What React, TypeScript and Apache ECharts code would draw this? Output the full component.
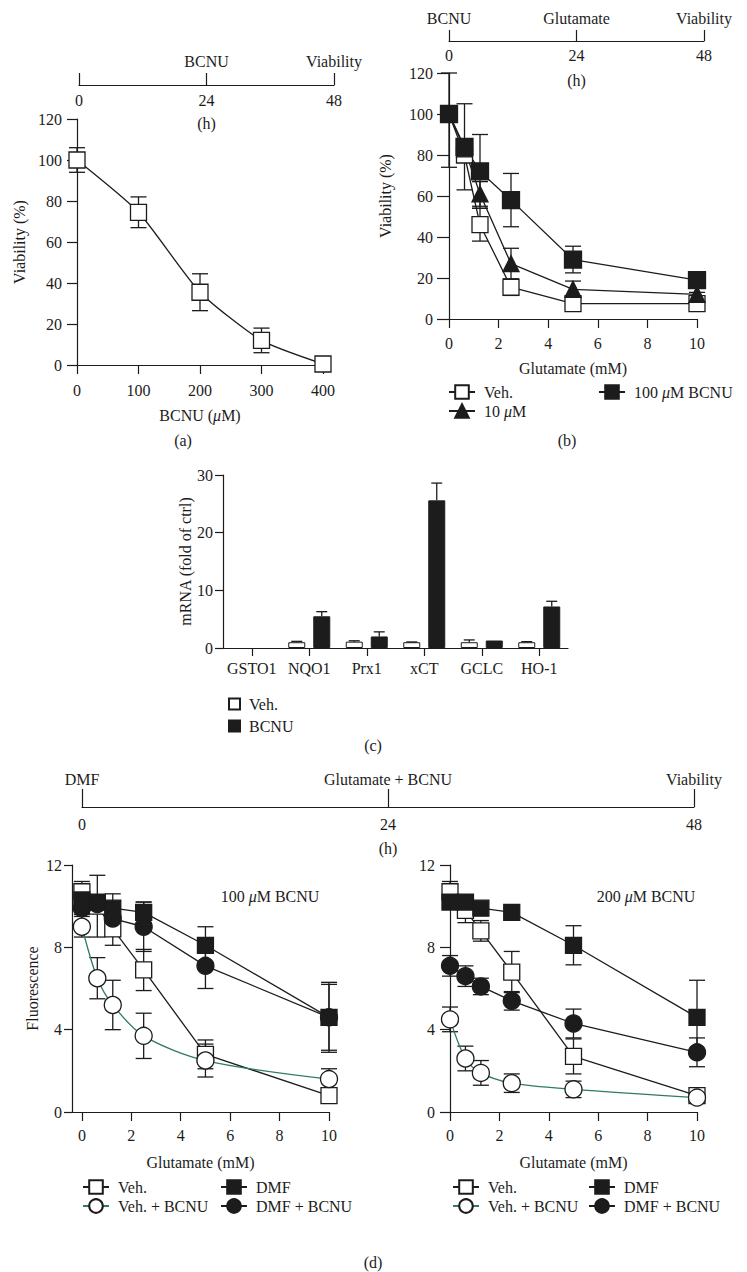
import React, { useEffect, useRef } from 'react';
import * as echarts from 'echarts';

const FONT = '"Liberation Serif", "Times New Roman", serif';
const INK = '#1c1c1c';
const GREEN = '#2f7c5e';

// ---------- timelines ----------
const tlHours = [0, 24, 48];
const tlEventsA = ['', 'BCNU', 'Viability'];
const tlEventsB = ['BCNU', 'Glutamate', 'Viability'];
const tlEventsD = ['DMF', 'Glutamate + BCNU', 'Viability'];

// ---------- (a) ----------
const doseA = [0, 100, 200, 300, 400];
const viabA = [100, 74.5, 35.5, 12, 0.5];
const viabAErr = [6, 7.5, 9, 6, 0];

// ---------- (b) ----------
const glut = [0, 0.625, 1.25, 2.5, 5, 10];
const bVeh = [100, 80, 46, 15.5, 7.5, 7.5];
const bVehErr = [0, 3, 8, 4, 1, 1];
const b10 = [100, 83, 61, 27, 14.5, 12];
const b10Err = [0, 3, 6, 7.5, 4, 1];
const b100 = [100, 84, 72, 58, 29, 19];
const b100Err = [26, 21, 18, 13, 6.5, 1];

// ---------- (c) ----------
const genes = ['GSTO1', 'NQO1', 'Prx1', 'xCT', 'GCLC', 'HO-1'];
const cVeh = [null, 1, 1.1, 1, 1, 1];
const cVehErr = [0, 0.15, 0.15, 0.05, 0.4, 0.1];
const cBcnu = [null, 5.5, 2, 25.6, 1.3, 7.2];
const cBcnuErr = [0, 0.8, 0.8, 3, 0, 0.9];

// ---------- (d) left: 100 uM BCNU ----------
const dLVeh = [10.7, 10.0, 8.9, 6.9, 2.8, 0.8];
const dLVehErr = [0.5, 1.5, 0.8, 1.0, 0.7, 0.2];
const dLVehB = [9.0, 6.5, 5.2, 3.7, 2.5, 1.6];
const dLVehBErr = [0.5, 1.0, 1.2, 1.1, 0.8, 0.5];
const dLDmf = [10.3, 10.2, 9.9, 9.7, 8.1, 4.6];
const dLDmfErr = [0.3, 0.3, 0.7, 0.5, 0.9, 1.7];
const dLDmfB = [9.9, 10.1, 9.4, 9.0, 7.1, 4.6];
const dLDmfBErr = [0.3, 0.4, 0.8, 1.2, 1.1, 1.6];

// ---------- (d) right: 200 uM BCNU ----------
const dRVeh = [10.7, 9.8, 8.8, 6.8, 2.7, 0.8];
const dRVehErr = [0.5, 0.6, 0.5, 1.0, 0.85, 0.2];
const dRVehB = [4.5, 2.6, 1.9, 1.4, 1.1, 0.7];
const dRVehBErr = [0.6, 0.6, 0.6, 0.45, 0.4, 0.1];
const dRDmf = [10.2, 10.2, 9.9, 9.7, 8.1, 4.6];
const dRDmfErr = [0.2, 0.2, 0.3, 0.2, 0.95, 1.8];
const dRDmfB = [7.1, 6.6, 6.1, 5.4, 4.3, 2.9];
const dRDmfBErr = [0.5, 0.5, 0.4, 0.45, 0.7, 0.7];

const glutTicks = [0, 2, 4, 6, 8, 10];

const txt = { fontFamily: FONT, fontSize: 16, color: INK };
const rich = { i: { fontFamily: FONT, fontSize: 16, color: INK, fontStyle: 'italic' } };

function timelineAxes(gridIndex: number, events: string[], tickLen: number, topMargin: number, numMargin: number, nameGap: number) {
  return [
    {
      type: 'value', gridIndex, min: 0, max: 48, interval: 24, position: 'bottom',
      axisLine: { show: true, lineStyle: { color: INK, width: 1.2 } },
      axisTick: { show: true, inside: true, length: tickLen, lineStyle: { color: INK, width: 1.2 } },
      axisLabel: { ...txt, margin: numMargin },
      splitLine: { show: false },
      name: '(h)', nameLocation: 'middle', nameGap, nameTextStyle: txt,
    },
    {
      type: 'value', gridIndex, min: 0, max: 48, interval: 24, position: 'top',
      axisLine: { show: false }, axisTick: { show: false }, splitLine: { show: false },
      axisLabel: { ...txt, margin: topMargin, formatter: (v: number) => events[tlHours.indexOf(v)] || '' },
    },
  ];
}

function plotX(gridIndex: number, min: number, max: number, interval: number, name: string, margin: number, nameGap: number, extra: any = {}) {
  return {
    type: 'value', gridIndex, min, max, interval,
    axisLine: { show: true, onZero: false, lineStyle: { color: INK, width: 1.2 } },
    axisTick: { show: true, length: 9, lineStyle: { color: INK, width: 1.2 } },
    axisLabel: { ...txt, margin },
    splitLine: { show: false },
    name, nameLocation: 'middle', nameGap, nameTextStyle: { ...txt, rich },
    ...extra,
  };
}

function plotY(gridIndex: number, min: number, max: number, interval: number, name: string, nameGap: number, tickLen: number, margin: number) {
  return {
    type: 'value', gridIndex, min, max, interval,
    axisLine: { show: true, onZero: false, lineStyle: { color: INK, width: 1.2 } },
    axisTick: { show: true, length: tickLen, lineStyle: { color: INK, width: 1.2 } },
    axisLabel: { ...txt, margin },
    splitLine: { show: false },
    name, nameLocation: 'middle', nameGap, nameRotate: 90, nameTextStyle: txt,
  };
}

function lineS(name: string, xs: number[], ys: number[], xi: number, yi: number, symbol: string, filled: boolean, extra: any = {}) {
  return {
    type: 'line', name, xAxisIndex: xi, yAxisIndex: yi,
    data: xs.map((x, i) => [x, ys[i]]),
    symbol, symbolSize: 16, showAllSymbol: true, clip: false, z: 3,
    lineStyle: { color: INK, width: 1.3 },
    itemStyle: { color: filled ? INK : '#ffffff', borderColor: INK, borderWidth: 1.3 },
    emphasis: { disabled: true },
    ...extra,
  };
}

function errS(xs: number[], ys: number[], es: number[], xi: number, yi: number, yMin: number, yMax: number, cap: number) {
  const data: number[][] = [];
  xs.forEach((x, i) => {
    if (es[i] > 0) data.push([x, Math.max(yMin, ys[i] - es[i]), Math.min(yMax, ys[i] + es[i])]);
  });
  return {
    type: 'custom', xAxisIndex: xi, yAxisIndex: yi, z: 1, silent: true,
    data,
    renderItem: (_p: any, api: any) => {
      const x = api.value(0), lo = api.value(1), hi = api.value(2);
      const a = api.coord([x, lo]);
      const b = api.coord([x, hi]);
      const st = { stroke: INK, lineWidth: 1.3 };
      return {
        type: 'group',
        children: [
          { type: 'line', shape: { x1: a[0], y1: a[1], x2: b[0], y2: b[1] }, style: st },
          { type: 'line', shape: { x1: a[0] - cap / 2, y1: a[1], x2: a[0] + cap / 2, y2: a[1] }, style: st },
          { type: 'line', shape: { x1: b[0] - cap / 2, y1: b[1], x2: b[0] + cap / 2, y2: b[1] }, style: st },
        ],
      };
    },
  };
}

const BAR_W = 17;
const BAR_GAP = 8;

function barErrS(vals: (number | null)[], errs: number[], side: number) {
  const data: number[][] = [];
  vals.forEach((v, i) => {
    if (v != null && errs[i] > 0) data.push([i, v, v + errs[i]]);
  });
  return {
    type: 'custom', xAxisIndex: 8, yAxisIndex: 5, z: 3, silent: true,
    data,
    renderItem: (_p: any, api: any) => {
      const a = api.coord([api.value(0), api.value(1)]);
      const b = api.coord([api.value(0), api.value(2)]);
      const x = a[0] + side * (BAR_W + BAR_GAP) / 2;
      const st = { stroke: INK, lineWidth: 1.3 };
      return {
        type: 'group',
        children: [
          { type: 'line', shape: { x1: x, y1: a[1], x2: x, y2: b[1] }, style: st },
          { type: 'line', shape: { x1: x - 5.5, y1: b[1], x2: x + 5.5, y2: b[1] }, style: st },
        ],
      };
    },
  };
}

const legendFmt = (name: string) => name.slice(name.indexOf(':') + 1).replace('μ', '{i|μ}');

function legend(data: string[], left: number, top: number, extra: any = {}) {
  return {
    data, left, top, orient: 'vertical', padding: 0,
    itemWidth: 26, itemHeight: 17, itemGap: 3,
    selectedMode: false, formatter: legendFmt,
    textStyle: { ...txt, rich, padding: [0, 0, 0, 4] },
    ...extra,
  };
}

function gtext(text: string, x: number, y: number) {
  return {
    type: 'text', x, y, silent: true,
    style: { text, fill: INK, font: `16px ${FONT}`, textAlign: 'center', textVerticalAlign: 'middle', rich },
  };
}

export default function App() {
  const ref = useRef<HTMLDivElement>(null);
  useEffect(() => {
    if (!ref.current) return;
    const chart = echarts.init(ref.current, undefined, { renderer: 'svg' });
    const greenLine = { smooth: 0.3, lineStyle: { color: GREEN, width: 1.3 }, symbolSize: 17 };
    const option: any = {
      animation: false,
      backgroundColor: '#ffffff',
      textStyle: { fontFamily: FONT },
      grid: [
        { left: 79, top: 84, width: 255, height: 1 },   // 0 timeline a
        { left: 449, top: 40, width: 255, height: 1 },  // 1 timeline b
        { left: 82, top: 806, width: 612, height: 1 },  // 2 timeline d
        { left: 77, top: 119, width: 246, height: 246 }, // 3 a
        { left: 449, top: 73, width: 248, height: 246 }, // 4 b
        { left: 223, top: 475, width: 345, height: 173 }, // 5 c
        { left: 72, top: 865, width: 257, height: 247 }, // 6 d left
        { left: 450, top: 865, width: 247, height: 247 }, // 7 d right
      ],
      xAxis: [
        ...timelineAxes(0, tlEventsA, 12, 15, 7, 30),
        ...timelineAxes(1, tlEventsB, 11, 14, 6, 31),
        ...timelineAxes(2, tlEventsD, 18, 19, 9, 33),
        plotX(3, 0, 400, 100, 'BCNU ({i|μ}M)', 17, 42),
        plotX(4, 0, 10, 2, 'Glutamate (mM)', 16, 41),
        {
          type: 'category', gridIndex: 5, data: genes,
          axisLine: { show: true, lineStyle: { color: INK, width: 1.2 } },
          axisTick: { show: true, alignWithLabel: true, length: 8, lineStyle: { color: INK, width: 1.2 } },
          axisLabel: { ...txt, margin: 12, interval: 0 },
          splitLine: { show: false },
        },
        plotX(6, -0.4, 10, 2, 'Glutamate (mM)', 15, 42, {
          interval: undefined,
          axisTick: { show: true, length: 9, customValues: glutTicks, lineStyle: { color: INK, width: 1.2 } },
          axisLabel: { ...txt, margin: 15, customValues: glutTicks },
        }),
        plotX(7, 0, 10, 2, 'Glutamate (mM)', 15, 42),
      ],
      yAxis: [
        { type: 'value', gridIndex: 0, min: 0, max: 1, show: false },
        { type: 'value', gridIndex: 1, min: 0, max: 1, show: false },
        { type: 'value', gridIndex: 2, min: 0, max: 1, show: false },
        plotY(3, 0, 120, 20, 'Viability (%)', 50, 10, 15),
        plotY(4, 0, 120, 20, 'Viability (%)', 56, 12, 16),
        plotY(5, 0, 30, 10, 'mRNA (fold of ctrl)', 30, 8, 10),
        plotY(6, 0, 12, 4, 'Fluorescence', 32, 8, 10),
        plotY(7, 0, 12, 4, '', 30, 10, 15),
      ],
      legend: [
        legend(['b:Veh.', 'b:10 μM'], 448, 384),
        legend(['b:100 μM BCNU'], 598, 384),
        legend(['c:Veh.', 'c:BCNU'], 228, 696, { icon: 'rect', itemWidth: 11, itemHeight: 11, itemGap: 6 }),
        legend(['dL:Veh.', 'dL:Veh. + BCNU'], 82, 1179),
        legend(['dL:DMF', 'dL:DMF + BCNU'], 220, 1179),
        legend(['dR:Veh.', 'dR:Veh. + BCNU'], 452, 1179),
        legend(['dR:DMF', 'dR:DMF + BCNU'], 588, 1179),
      ],
      graphic: [
        gtext('(a)', 183, 440),
        gtext('(b)', 567, 440),
        gtext('(c)', 373, 745),
        gtext('(d)', 373, 1262),
        gtext('100 {i|μ}M BCNU', 270, 896),
        gtext('200 {i|μ}M BCNU', 646, 896),
      ],
      series: [
        // (a)
        errS(doseA, viabA, viabAErr, 6, 3, 0, 120, 16),
        lineS('a:BCNU', doseA, viabA, 6, 3, 'rect', false, { smooth: 0.2 }),
        // (b)
        errS(glut, bVeh, bVehErr, 7, 4, 0, 120, 16),
        errS(glut, b10, b10Err, 7, 4, 0, 120, 16),
        errS(glut, b100, b100Err, 7, 4, 0, 120, 16),
        lineS('b:Veh.', glut, bVeh, 7, 4, 'rect', false),
        lineS('b:10 μM', glut, b10, 7, 4, 'triangle', true),
        lineS('b:100 μM BCNU', glut, b100, 7, 4, 'rect', true, { symbolSize: 17 }),
        // (c)
        {
          type: 'bar', name: 'c:Veh.', xAxisIndex: 8, yAxisIndex: 5, data: cVeh,
          barWidth: BAR_W, barGap: `${(BAR_GAP / BAR_W) * 100}%`,
          itemStyle: { color: '#ffffff', borderColor: INK, borderWidth: 1 },
          emphasis: { disabled: true },
        },
        {
          type: 'bar', name: 'c:BCNU', xAxisIndex: 8, yAxisIndex: 5, data: cBcnu,
          barWidth: BAR_W, barGap: `${(BAR_GAP / BAR_W) * 100}%`,
          itemStyle: { color: INK, borderColor: INK, borderWidth: 1 },
          emphasis: { disabled: true },
        },
        barErrS(cVeh, cVehErr, -1),
        barErrS(cBcnu, cBcnuErr, 1),
        // (d) left
        errS(glut, dLVeh, dLVehErr, 9, 6, 0, 12, 16),
        errS(glut, dLVehB, dLVehBErr, 9, 6, 0, 12, 16),
        errS(glut, dLDmf, dLDmfErr, 9, 6, 0, 12, 16),
        errS(glut, dLDmfB, dLDmfBErr, 9, 6, 0, 12, 16),
        lineS('dL:Veh.', glut, dLVeh, 9, 6, 'rect', false),
        lineS('dL:Veh. + BCNU', glut, dLVehB, 9, 6, 'circle', false, greenLine),
        lineS('dL:DMF', glut, dLDmf, 9, 6, 'rect', true),
        lineS('dL:DMF + BCNU', glut, dLDmfB, 9, 6, 'circle', true, { symbolSize: 17 }),
        // (d) right
        errS(glut, dRVeh, dRVehErr, 10, 7, 0, 12, 16),
        errS(glut, dRVehB, dRVehBErr, 10, 7, 0, 12, 16),
        errS(glut, dRDmf, dRDmfErr, 10, 7, 0, 12, 16),
        errS(glut, dRDmfB, dRDmfBErr, 10, 7, 0, 12, 16),
        lineS('dR:Veh.', glut, dRVeh, 10, 7, 'rect', false),
        lineS('dR:Veh. + BCNU', glut, dRVehB, 10, 7, 'circle', false, greenLine),
        lineS('dR:DMF', glut, dRDmf, 10, 7, 'rect', true),
        lineS('dR:DMF + BCNU', glut, dRDmfB, 10, 7, 'circle', true, { symbolSize: 17 }),
      ],
    };
    chart.setOption(option);
    return () => chart.dispose();
  }, []);
  return (
    <div
      ref={ref}
      style={{ position: 'absolute', left: 0, top: 0, width: 747, height: 1272, background: '#fff' }}
    />
  );
}
